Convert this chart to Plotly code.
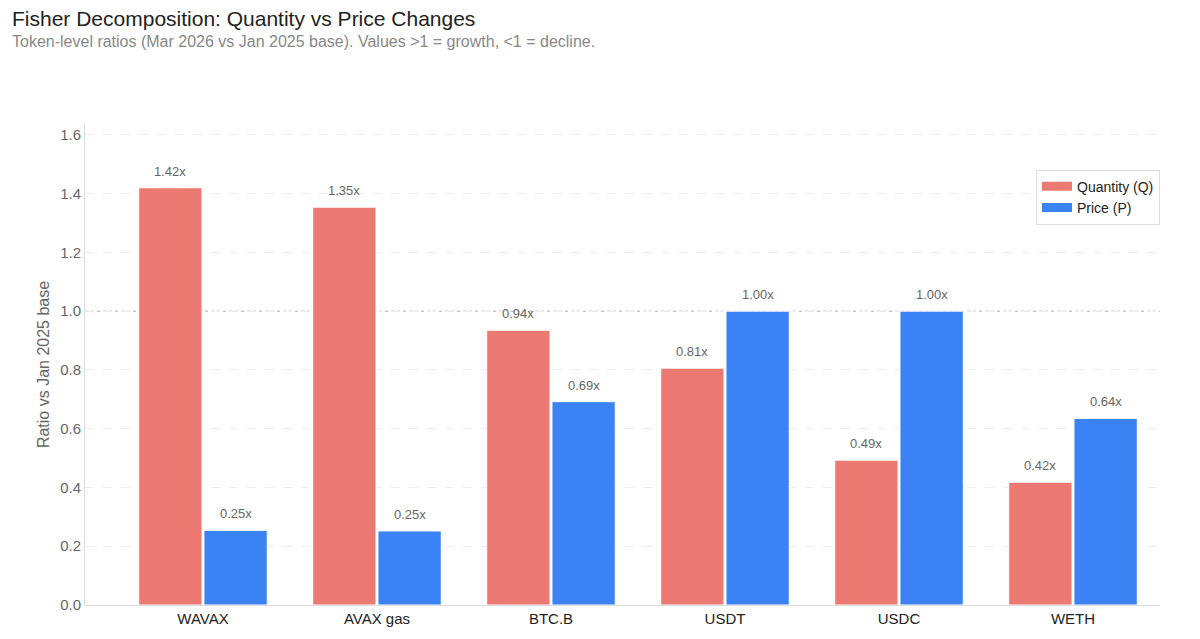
import plotly.graph_objects as go

tokens = ["WAVAX", "AVAX gas", "BTC.B", "USDT", "USDC", "WETH"]
quantity = [1.42, 1.354, 0.935, 0.806, 0.493, 0.418]
price = [0.254, 0.252, 0.692, 1.0, 1.0, 0.635]
q_labels = ["1.42x", "1.35x", "0.94x", "0.81x", "0.49x", "0.42x"]
p_labels = ["0.25x", "0.25x", "0.69x", "1.00x", "1.00x", "0.64x"]

Q_COLOR = "#EC7A72"
P_COLOR = "#3B82F4"
FONT = "Liberation Sans, Arial, Helvetica, sans-serif"

fig = go.Figure()
fig.add_trace(go.Bar(name="Quantity (Q)", x=tokens, y=quantity, showlegend=False,
                     marker=dict(color=Q_COLOR, line=dict(color="white", width=1))))
fig.add_trace(go.Bar(name="Price (P)", x=tokens, y=price, showlegend=False,
                     marker=dict(color=P_COLOR, line=dict(color="white", width=1))))
# legend swatches (wide rectangles)
fig.add_trace(go.Scatter(name="Quantity (Q)", x=[None], y=[None], mode="lines",
                         line=dict(color=Q_COLOR, width=9)))
fig.add_trace(go.Scatter(name="Price (P)", x=[None], y=[None], mode="lines",
                         line=dict(color=P_COLOR, width=9)))

for vals, labs, shift in [(quantity, q_labels, -33), (price, p_labels, 33)]:
    for t, v, l in zip(tokens, vals, labs):
        fig.add_annotation(x=t, y=v, text=l, showarrow=False, xshift=shift, yshift=7,
                           yanchor="bottom", font=dict(size=13, color="#666666", family=FONT))

fig.add_hline(y=1.0, line=dict(color="#AAAAAA", width=1, dash="dot"), layer="below")

fig.add_annotation(text="Fisher Decomposition: Quantity vs Price Changes", xref="paper", yref="paper",
                   x=-0.0698, y=1.2186, xanchor="left", yanchor="middle", showarrow=False,
                   font=dict(size=21, color="#222222", family=FONT))
fig.add_annotation(text="Token-level ratios (Mar 2026 vs Jan 2025 base). Values >1 = growth, <1 = decline.",
                   xref="paper", yref="paper", x=-0.0698, y=1.171, xanchor="left", yanchor="middle",
                   showarrow=False, font=dict(size=16, color="#888888", family=FONT))

fig.update_layout(
    width=1200, height=639,
    margin=dict(l=85, r=40, t=124, b=30),
    paper_bgcolor="white", plot_bgcolor="white",
    font=dict(family=FONT, color="#666666"),
    barmode="group", bargap=0.25, bargroupgap=0.03,
    legend=dict(x=1, xanchor="right", y=0.905, yanchor="top", bordercolor="#DDDDDD", borderwidth=1,
                bgcolor="white", font=dict(size=14, color="#222222"), itemwidth=30, tracegroupgap=0),
    xaxis=dict(showline=True, linecolor="#DDDDDD", tickfont=dict(size=15, color="#222222"), ticks="",
               range=[-0.678, 5.5]),
    yaxis=dict(range=[0, 1.637], dtick=0.2, tickformat=".1f", showline=True, linecolor="#DDDDDD",
               gridcolor="#EEEEEE", griddash="dash", zeroline=False, tickfont=dict(size=15, color="#666666"),
               title=dict(text="Ratio vs Jan 2025 base", font=dict(size=16, color="#666666"), standoff=6)),
)
fig.write_html("out.html")
